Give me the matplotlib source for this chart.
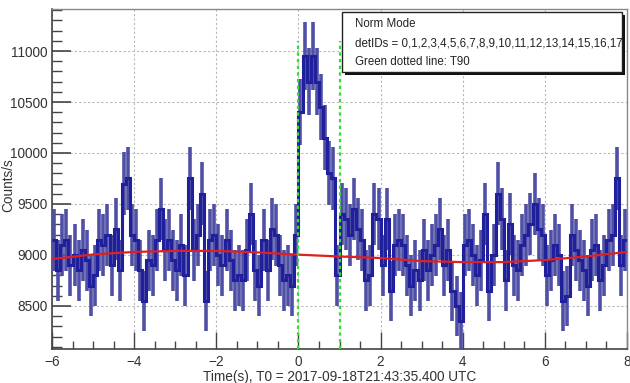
import numpy as np
import matplotlib
matplotlib.use("Agg")
import matplotlib.pyplot as plt
from matplotlib.patches import Rectangle
from matplotlib.ticker import MultipleLocator

plt.rcParams['font.family'] = ['Liberation Sans', 'DejaVu Sans']

# ---- data ----
bin_width = 0.1
t_start = -6.0
rate = [
    9150, 8850, 9100, 9150, 8900, 9000, 8850, 9050, 8950, 8700,
    8800, 9150, 9100, 9200, 8900, 9250, 8850, 9700, 9750, 9200,
    9150, 8850, 8550, 8950, 8900, 9150, 9450, 9050, 9150, 8950,
    8850, 9100, 8800, 9750, 9050, 9200, 9600, 8550, 9150, 9200,
    9000, 8900, 9150, 8950, 8750, 8800, 8750, 9050, 9400, 8850,
    8700, 9150, 8850, 9250, 9200, 8900, 8750, 8800, 8700, 9200,
    10400, 10950, 10700, 10950, 10700, 10450, 10150, 9800, 9750, 8800,
    9400, 9350, 9200, 9450, 9250, 9150, 8750, 8800, 9400, 9350,
    8900, 9350, 8650, 9100, 9150, 9100, 8900, 8700, 8850, 8750,
    9050, 8850, 9000, 9100, 9250, 8900, 9050, 8650, 8500, 8350,
    9100, 9150, 9000, 8800, 8950, 9400, 8650, 9000, 9600, 9350,
    8750, 9300, 8900, 8850, 9100, 9200, 9300, 9500, 9250, 9200,
    8800, 8950, 9100, 9000, 8550, 8600, 9200, 9050, 8950, 8850,
    8700, 9050, 9100, 8750, 8900, 9150, 9200, 9750, 8900, 9150,
]
bkg_t = [-6, -5, -4, -3, -2, -1, 0, 1, 2, 3, 4, 5, 6, 7, 8]
bkg_rate = [8960, 9005, 9030, 9040, 9040, 9025, 9003, 8985, 8970, 8940,
            8930, 8930, 8950, 8985, 9030]
t90_start, t90_end = 0.0, 1.0
legend_lines = ["Norm Mode",
                "detIDs = 0,1,2,3,4,5,6,7,8,9,10,11,12,13,14,15,16,17",
                "Green dotted line: T90"]
xlabel = "Time(s), T0 = 2017-09-18T21:43:35.400 UTC"
ylabel = "Counts/s"

rate = np.array(rate, dtype=float)
n = len(rate)
edges = t_start + bin_width * np.arange(n + 1)
centers = 0.5 * (edges[:-1] + edges[1:])
err = np.sqrt(rate / bin_width)

W, H = 630, 383
fig = plt.figure(figsize=(W / 100, H / 100), dpi=100)
ax = fig.add_axes([52 / W, 1 - 349 / H, (627 - 52) / W, (349 - 9) / H])

ax.set_xlim(-6, 8)
ax.set_ylim(8078, 11412)

# grid
ax.grid(True, which='major', color='#b8b8b8', linestyle=(0, (2, 2)), linewidth=0.8)
ax.set_axisbelow(True)

# error bars
ax.vlines(centers, rate - err, rate + err, color='#4f4fa6', linewidth=2.6, zorder=3)
# histogram step
ax.stairs(rate, edges, color='#20209c', linewidth=2.2, zorder=4, baseline=None)

# background
ax.plot(bkg_t, bkg_rate, color='#e02020', linewidth=1.6, zorder=5)

# T90 lines
for tv in (t90_start, t90_end):
    ax.plot([tv, tv], [8078, 11100], color='#33dd33', linestyle=(0, (1.5, 1.5)),
            linewidth=1.6, zorder=6)

# ticks
ax.xaxis.set_major_locator(MultipleLocator(2))
ax.xaxis.set_minor_locator(MultipleLocator(0.5))
ax.yaxis.set_major_locator(MultipleLocator(500))
ax.yaxis.set_minor_locator(MultipleLocator(100))
ax.tick_params(axis='both', which='both', direction='in', colors='#444444',
               labelcolor='#333333', labelsize=9.8)
ax.tick_params(axis='y', which='major', length=14, width=1.2, pad=3)
ax.tick_params(axis='y', which='minor', length=7, width=1.0)
ax.tick_params(axis='x', which='major', length=12, width=1.0, pad=4)
ax.tick_params(axis='x', which='minor', length=6, width=1.0)
ax.set_yticks([8500, 9000, 9500, 10000, 10500, 11000])

for side in ('left', 'bottom'):
    ax.spines[side].set_color('#444444')
    ax.spines[side].set_linewidth(1.2)
for side in ('top', 'right'):
    ax.spines[side].set_color('#888888')
    ax.spines[side].set_linewidth(1.0)

ax.set_xlabel(xlabel, fontsize=9.8, color='#333333', labelpad=1)
fig.text(8 / W, 1 - 185 / H, ylabel, rotation=90, fontsize=9.8, color='#333333',
         ha='center', va='center')

# legend box
bx0, bx1, by0, by1 = 342, 622, 12, 72
shadow = Rectangle(((bx0 + 3) / W, 1 - (by1 + 3) / H),
                   (bx1 - bx0) / W, (by1 - by0) / H, transform=fig.transFigure,
                   facecolor='#111111', edgecolor='none', zorder=10)
fig.patches.append(shadow)
box = Rectangle((bx0 / W, 1 - by1 / H), (bx1 - bx0) / W, (by1 - by0) / H,
                transform=fig.transFigure, facecolor='white', edgecolor='#222222',
                linewidth=1.0, zorder=11)
fig.patches.append(box)
for i, s in enumerate(legend_lines):
    fig.text(355 / W, 1 - (24 + 19 * i) / H, s, fontsize=8.3, color='#222222',
             ha='left', va='center', zorder=12)

fig.savefig("out.png", dpi=100)
